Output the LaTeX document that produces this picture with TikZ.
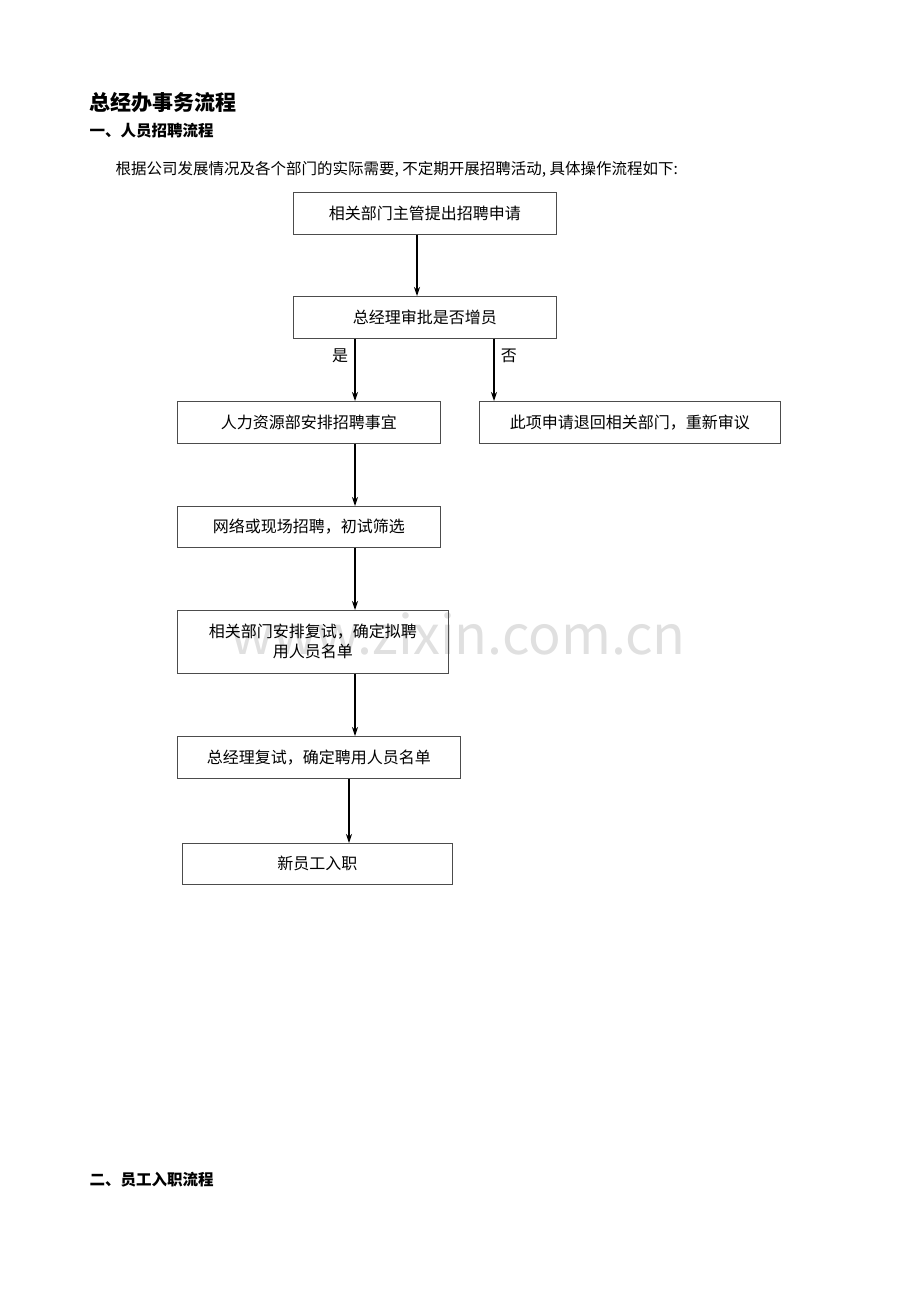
\documentclass[tikz,border=0pt]{standalone}
\usepackage{fontspec}
\setmainfont{Noto Sans CJK SC}
\usetikzlibrary{arrows.meta}
\begin{document}
\begin{tikzpicture}[x=1pt,y=-1pt,
  bx/.style={draw=black!70,line width=0.7pt,anchor=north west,inner sep=0pt,font=\fontsize{16}{20}\selectfont,align=center},
  ar/.style={-{Stealth[length=9pt,width=6pt]},line width=1.1pt}]
\useasboundingbox (0,0) rectangle (920,1302);
\node[anchor=west,font=\fontsize{21}{24}\selectfont\bfseries] (t) at (86,103) {总经办事务流程};
\node[anchor=west,font=\fontsize{15.5}{18}\selectfont\bfseries] (h1) at (86,131) {一、人员招聘流程};
\node[anchor=west,font=\fontsize{15.5}{18}\selectfont] (p) at (112,169) {根据公司发展情况及各个部门的实际需要, 不定期开展招聘活动, 具体操作流程如下:};
\node[anchor=west,font=\fontsize{15.5}{18}\selectfont\bfseries] (h2) at (86,1180) {二、员工入职流程};
\node[font=\fontsize{54}{60}\selectfont,text=black!12] (wm) at (458,634) {www.zixin.com.cn};
\node[bx,minimum width=263,minimum height=42] (b1) at (293,192) {相关部门主管提出招聘申请};
\node[bx,minimum width=263,minimum height=42] (b2) at (293,296) {总经理审批是否增员};
\node[bx,minimum width=263,minimum height=42] (b3) at (177,401) {人力资源部安排招聘事宜};
\node[bx,minimum width=301,minimum height=42] (b4) at (479,401) {此项申请退回相关部门，重新审议};
\node[bx,minimum width=263,minimum height=41] (b5) at (177,506) {网络或现场招聘，初试筛选};
\node[bx,minimum width=271,minimum height=63] (b6) at (177,610) {相关部门安排复试，确定拟聘\\用人员名单};
\node[bx,minimum width=283,minimum height=42] (b7) at (177,736) {总经理复试，确定聘用人员名单};
\node[bx,minimum width=270,minimum height=41] (b8) at (182,843) {新员工入职};
\draw[ar] (b1.south -| 417,0) -- (b2.north -| 417,0);
\draw[ar] (b2.south -| 355,0) -- (b3.north -| 355,0) node[pos=0.28,left=3pt,font=\fontsize{16}{18}\selectfont] {是};
\draw[ar] (b2.south -| 494,0) -- (b4.north -| 494,0) node[pos=0.28,right=3pt,font=\fontsize{16}{18}\selectfont] {否};
\draw[ar] (b3.south -| 355,0) -- (b5.north -| 355,0);
\draw[ar] (b5.south -| 355,0) -- (b6.north -| 355,0);
\draw[ar] (b6.south -| 355,0) -- (b7.north -| 355,0);
\draw[ar] (b7.south -| 349,0) -- (b8.north -| 349,0);
\end{tikzpicture}
\end{document}
